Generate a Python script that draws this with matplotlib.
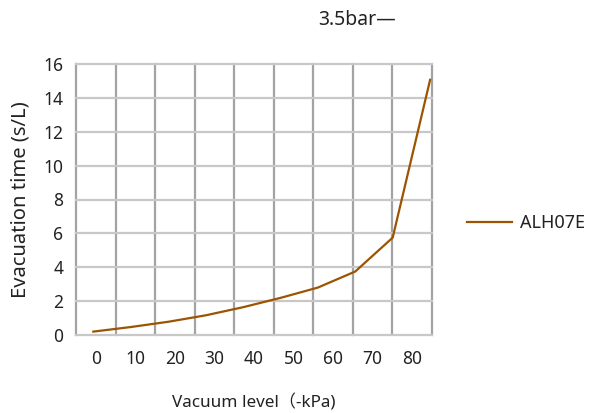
import numpy as np
import matplotlib.pyplot as plt

plt.rcParams['font.family'] = ['Noto Sans', 'Noto Sans CJK SC', 'DejaVu Sans']

# подписи оси X (категории) и данные кривой
x_labels = ['0', '10', '20', '30', '40', '50', '60', '70', '80']
vacuum = [0, 10, 20, 30, 40, 50, 60, 70, 80, 90]
evac_time = [0.2, 0.47, 0.78, 1.16, 1.64, 2.19, 2.8, 3.75, 5.75, 15.07]
y_ticks = [0, 2, 4, 6, 8, 10, 12, 14, 16]

line_color = '#9c5400'
text_color = '#222222'

fig = plt.figure(figsize=(5.92, 4.13), dpi=100)
ax = fig.add_axes([76 / 592, 1 - 335 / 413, 356 / 592, 271 / 413])

# сетка по категориям
ax.set_xlim(-0.5, len(x_labels) - 0.5)
ax.set_ylim(0, 16)
for xv in np.arange(-0.5, len(x_labels), 1.0):
    ax.axvline(xv, color='#a3a3a3', linewidth=1.6, zorder=1, clip_on=False)
for yv in y_ticks:
    ax.axhline(yv, color='#c8c8c8', linewidth=1.6, zorder=1, clip_on=False)

ax.set_xticks(range(len(x_labels)))
ax.set_xticklabels(x_labels)
ax.set_yticks(y_ticks)
ax.tick_params(axis='both', length=0, labelsize=12.5, colors=text_color)
ax.tick_params(axis='x', pad=11)
ax.tick_params(axis='y', pad=9)
for s in ax.spines.values():
    s.set_visible(False)

ax.set_ylabel('Evacuation time (s/L)', fontsize=14.5, color=text_color, labelpad=9)
ax.set_xlabel('Vacuum level（-kPa)', fontsize=12.3, color=text_color, labelpad=19)

# кривая на своей оси X
ax2 = ax.twiny()
ax2.set_xlim(-4.62, 90.5)
ax2.set_ylim(0, 16)
ax2.axis('off')
ax2.plot(vacuum, evac_time, color=line_color, linewidth=1.6, zorder=3, label='ALH07E')

fig.text(318 / 592, 1 - 20 / 413, '3.5bar—', fontsize=14, color=text_color,
         va='center', ha='left')

leg = fig.legend(handles=ax2.get_lines(), loc='center left',
                 bbox_to_anchor=(451 / 592, 1 - 223 / 413), frameon=False,
                 fontsize=13, handlelength=2.5, handletextpad=0.4)
for t in leg.get_texts():
    t.set_color(text_color)

fig.savefig('out.png', dpi=100)
